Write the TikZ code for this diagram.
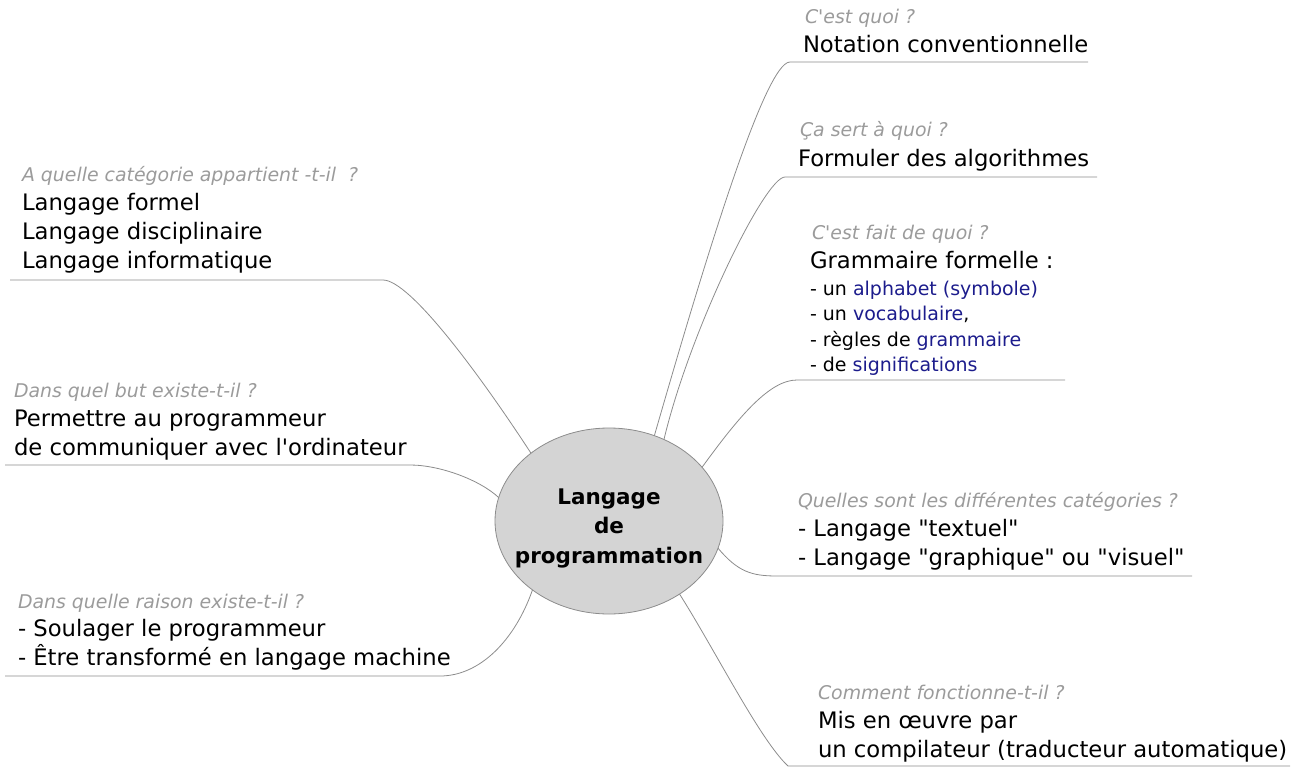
\documentclass[tikz,border=0pt]{standalone}
\usepackage{fontspec}
\setmainfont{DejaVu Sans}[ItalicFont={DejaVu Sans Oblique},BoldFont={DejaVu Sans Bold}]
\usetikzlibrary{shapes.geometric}
\definecolor{linkgray}{RGB}{140,140,140}
\definecolor{askgray}{RGB}{155,155,155}
\definecolor{termblue}{RGB}{28,28,140}
\definecolor{hubfill}{RGB}{212,212,212}
\newcommand{\dq}{\textquotedbl}

\begin{document}
\begin{tikzpicture}[x=1pt,y=-1pt,
  every node/.style={inner sep=0pt,outer sep=0pt},
  ask/.style={anchor=base west,font=\fontsize{18.9}{22}\selectfont\itshape,text=askgray},
  answer/.style={anchor=base west,font=\fontsize{22.7}{27}\selectfont,text=black},
  item/.style={anchor=base west,font=\fontsize{19}{22}\selectfont,text=black},
  branch/.style={draw=linkgray,line width=0.8pt},
  hubtext/.style={align=center,yshift=-7pt,font=\fontsize{21.5}{29.5}\selectfont\bfseries},
  hub/.style={ellipse,draw=linkgray,fill=hubfill,line width=0.8pt,
    minimum width=228pt,minimum height=186pt}]

\useasboundingbox (0,0) rectangle (1297,767);

% central topic
\node[hub,label={[hubtext]center:Langage\\de\\programmation}] (hub) at (609,521) {};

% underline end points of every branch
\coordinate (u1a) at (790,62);   \coordinate (u1b) at (1088,62);
\coordinate (u2a) at (785,177);  \coordinate (u2b) at (1097,177);
\coordinate (u3a) at (797,380);  \coordinate (u3b) at (1065,380);
\coordinate (u4a) at (777,576);  \coordinate (u4b) at (1192,576);
\coordinate (u5a) at (788,766);  \coordinate (u5b) at (1290,766);
\coordinate (u6a) at (383,280);  \coordinate (u6b) at (10,280);
\coordinate (u7a) at (410,465);  \coordinate (u7b) at (5,465);
\coordinate (u8a) at (440,676);  \coordinate (u8b) at (5,676);

% connectors from the central topic
\draw[branch] (hub.62)  .. controls (705,260) and (765,62)  .. (u1a) -- (u1b);
\draw[branch] (hub.56)  .. controls (690,330) and (765,177) .. (u2a) -- (u2b);
\draw[branch] (hub.30)  .. controls (740,415) and (770,380) .. (u3a) -- (u3b);
\draw[branch] (hub.-14) .. controls (738,572) and (752,576) .. (u4a) -- (u4b);
\draw[branch] (hub.-46) .. controls (715,650) and (760,740) .. (u5a) -- (u5b);
\draw[branch] (hub.139) .. controls (480,375) and (410,280) .. (u6a) -- (u6b);
\draw[branch] (hub.168) .. controls (480,480) and (440,465) .. (u7a) -- (u7b);
\draw[branch] (hub.222) .. controls (515,640) and (480,676) .. (u8a) -- (u8b);

% right side
\node[ask] (q1) at (805,24) {C\textquotesingle est quoi ?};
\node[answer] (a1) at (803,53) {Notation conventionnelle};

\node[ask] (q2) at (800,137) {Ça sert à quoi ?};
\node[answer] (a2) at (798,167) {Formuler des algorithmes};

\node[ask] (q3) at (812,240) {C\textquotesingle est fait de quoi ?};
\node[answer] (a3) at (810,268) {Grammaire formelle :};
\node[item] (a3a) at (810,295) {- un \textcolor{termblue}{alphabet (symbole)}};
\node[item] (a3b) at (810,320) {- un \textcolor{termblue}{vocabulaire},};
\node[item] (a3c) at (810,346) {- règles de \textcolor{termblue}{grammaire}};
\node[item] (a3d) at (810,371) {- de \textcolor{termblue}{significations}};

\node[ask] (q4) at (798,507) {Quelles sont les différentes catégories ?};
\node[answer] (a4a) at (798,536) {- Langage \dq textuel\dq};
\node[answer] (a4b) at (798,565) {- Langage \dq graphique\dq{} ou \dq visuel\dq};

\node[ask] (q5) at (818,699) {Comment fonctionne-t-il ?};
\node[answer] (a5a) at (818,728) {Mis en œuvre par};
\node[answer] (a5b) at (818,757) {un compilateur (traducteur automatique)};

% left side
\node[ask] (q6) at (22,182) {A quelle catégorie appartient -t-il\ \ ?};
\node[answer] (a6a) at (22,211) {Langage formel};
\node[answer] (a6b) at (22,240) {Langage disciplinaire};
\node[answer] (a6c) at (22,269) {Langage informatique};

\node[ask] (q7) at (14,397) {Dans quel but existe-t-il ?};
\node[answer] (a7a) at (14,426) {Permettre au programmeur};
\node[answer] (a7b) at (14,455) {de communiquer avec l\textquotesingle ordinateur};

\node[ask] (q8) at (18,608) {Dans quelle raison existe-t-il ?};
\node[answer] (a8a) at (18,636) {- Soulager le programmeur};
\node[answer] (a8b) at (18,665) {- Être transformé en langage machine};
\end{tikzpicture}
\end{document}
